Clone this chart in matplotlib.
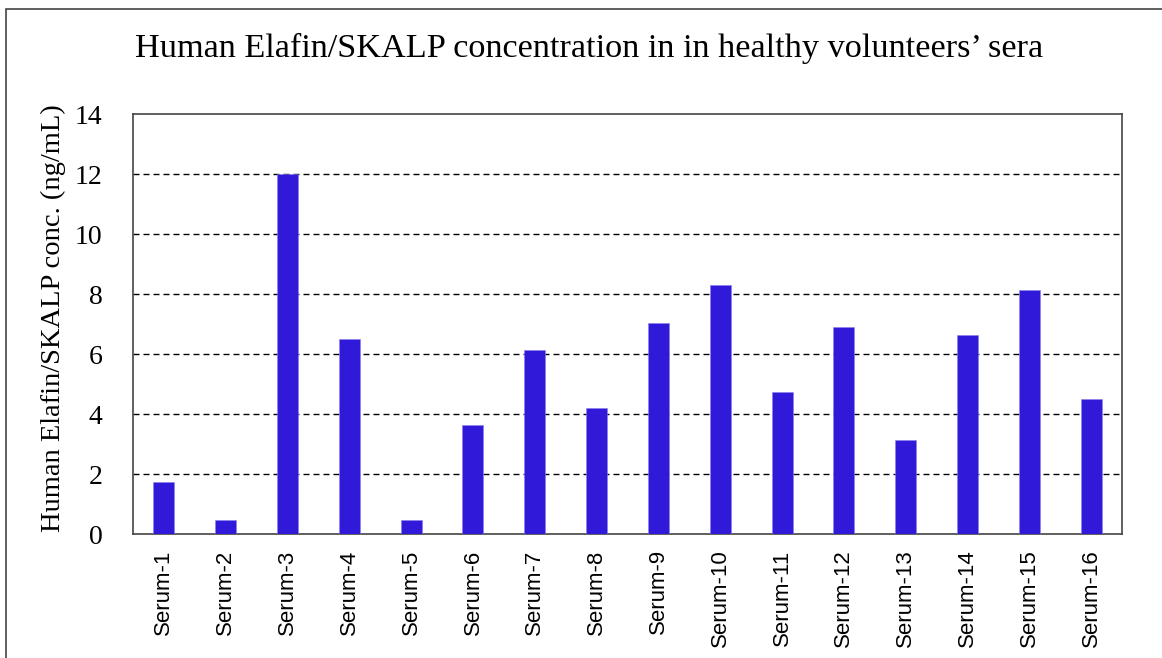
import matplotlib
matplotlib.use("Agg")
import matplotlib.pyplot as plt
from matplotlib.patches import Rectangle

categories = [f"Serum-{i}" for i in range(1, 17)]
values = [1.75, 0.47, 12.0, 6.5, 0.47, 3.63, 6.13, 4.2, 7.05, 8.3, 4.73, 6.9, 3.13, 6.65, 8.15, 4.5]
yticks = [0, 2, 4, 6, 8, 10, 12, 14]
title = "Human Elafin/SKALP concentration in in healthy volunteers\u2019 sera"
ylabel = "Human Elafin/SKALP conc. (ng/mL)"

plt.rcParams['lines.scale_dashes'] = False
serif = ['Liberation Serif', 'DejaVu Serif']
sans = ['Liberation Sans', 'DejaVu Sans']

W, H = 1162, 658
fig = plt.figure(figsize=(W / 100, H / 100), dpi=100)
ax = fig.add_axes([133 / W, (H - 534) / H, (1122 - 133) / W, (534 - 114) / H])

x = list(range(len(categories)))
ax.bar(x, values, width=0.34, color='#3019D9', edgecolor='#8a80ee', linewidth=0.4, zorder=3)

ax.set_xlim(-0.5, len(categories) - 0.5)
ax.set_ylim(0, 14)
ax.set_yticks(yticks)
ax.set_yticklabels([str(t) for t in yticks], fontfamily=serif, fontsize=20)
ax.set_xticks(x)
ax.set_xticklabels(categories, rotation=90, fontfamily=sans, fontsize=16)
ax.tick_params(axis='both', length=0)
ax.tick_params(axis='y', pad=22)
ax.tick_params(axis='x', pad=11)

for t in yticks[1:-1]:
    ax.axhline(t, color='black', linewidth=1.0, dashes=(4.3, 2.9), zorder=1)

for s in ax.spines.values():
    s.set_color('#444444')
    s.set_linewidth(1.2)

fig.text(589 / W, (H - 57) / H, title, ha='center', va='baseline',
         fontfamily=serif, fontsize=24.7)
fig.text(53 / W, (H - 318) / H, ylabel, rotation=90, ha='center', va='center',
         fontfamily=serif, fontsize=20.5)

fig.patches.append(Rectangle((6 / W, -0.1), 1.2, (H - 9) / H + 0.1,
                             transform=fig.transFigure, fill=False,
                             edgecolor='#444444', linewidth=1.2))

fig.savefig('out.png', dpi=100, facecolor='white')
